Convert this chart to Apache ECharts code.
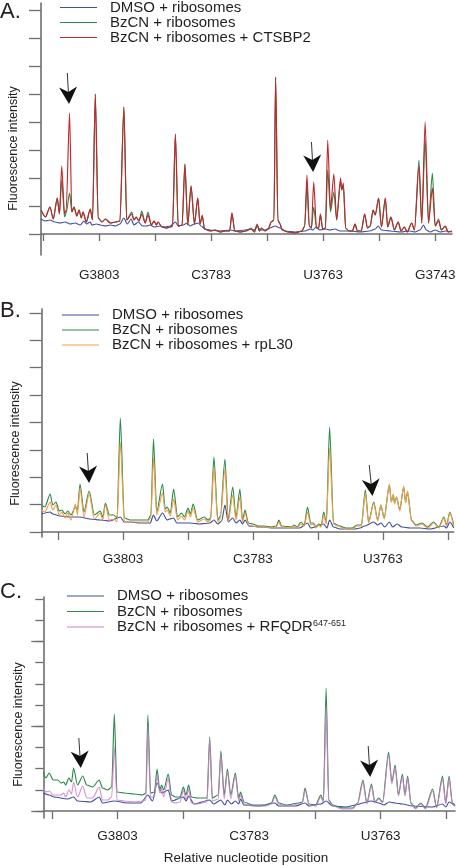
<!DOCTYPE html>
<html><head><meta charset="utf-8">
<script src="https://cdn.jsdelivr.net/npm/echarts@6/dist/echarts.min.js"></script>
<style>html,body{margin:0;padding:0;background:#fff}#c{width:456px;height:866px}</style>
</head><body><div id="c"></div>
<script>
// ---------- tick labels ----------
const xTickPos = [3813, 3803, 3793, 3783, 3773, 3763, 3753, 3743];
const xLabelPos = [3803, 3783, 3763, 3743];
const xLabelText = ['G3803', 'C3783', 'U3763', 'G3743'];

// ---------- panel A (series: [nucleotide, intensity]) ----------
const A_names = ['DMSO + ribosomes', 'BzCN + ribosomes', 'BzCN + ribosomes + CTSBP2'];
const A_dmso = [[3813.4,15],[3812.6,13],[3811.8,14],[3810.9,12],[3810.0,11],[3809.1,12],[3808.2,10],[3807.3,11],[3806.4,9],[3805.7,13],[3805.3,10],[3804.6,12],[3804.3,9],[3803.5,10],[3802.8,9],[3801.9,8],[3801.0,9],[3800.1,8],[3799.3,10],[3798.6,16],[3798.0,10],[3797.3,15],[3796.8,9],[3796.0,12],[3795.3,8],[3794.6,8],[3793.9,9],[3793.2,7],[3792.1,8],[3791.2,7],[3790.3,8],[3789.4,12],[3788.9,8],[3788.0,9],[3787.3,11],[3786.8,8],[3786.0,10],[3785.3,11],[3784.8,8],[3784.1,5],[3783.2,4],[3781.4,3],[3779.6,4],[3778.7,3],[3776.9,4],[3775.9,5],[3775.3,4],[3774.8,8],[3774.2,4],[3773.4,4],[3772.5,6],[3771.6,8],[3770.7,6],[3769.8,3],[3768.0,2],[3766.2,3],[3765.3,5],[3764.8,4],[3764.3,7],[3763.6,4],[3762.6,5],[3761.8,4],[3760.9,5],[3760.0,3],[3758.2,3],[3756.4,2],[3754.7,3],[3753.7,5],[3753.2,8],[3752.6,4],[3751.0,3],[3749.2,2],[3747.5,3],[3746.6,2],[3745.7,4],[3745.1,9],[3744.6,4],[3743.9,2],[3743.0,4],[3742.1,2],[3741.2,3],[3740.0,2]];
const A_bzcn = [[3813.4,24],[3812.6,17],[3811.8,27],[3811.2,15],[3810.5,36],[3810.1,20],[3809.7,54],[3809.2,17],[3808.9,21],[3808.3,41],[3807.9,22],[3807.5,27],[3807.0,18],[3806.6,24],[3806.2,16],[3805.9,22],[3805.3,12],[3804.6,25],[3804.2,14],[3803.7,140],[3803.2,16],[3802.5,12],[3801.9,15],[3801.0,11],[3800.1,12],[3799.3,13],[3798.6,127],[3798.1,14],[3797.2,22],[3796.8,14],[3796.4,17],[3795.9,13],[3795.4,23],[3794.8,11],[3794.3,22],[3793.7,9],[3793.2,13],[3792.8,9],[3792.5,12],[3791.8,7],[3791.0,6],[3790.3,7],[3789.9,8],[3789.4,100],[3788.9,8],[3788.2,9],[3787.7,70],[3787.2,9],[3786.6,48],[3786.0,10],[3785.4,36],[3785.0,10],[3784.6,19],[3784.2,5],[3783.2,3],[3782.3,4],[3781.4,2],[3780.5,3],[3779.7,3],[3779.3,21],[3778.8,3],[3777.8,2],[3776.8,3],[3775.9,6],[3775.3,2],[3774.8,10],[3774.4,3],[3774.0,6],[3773.4,3],[3772.8,5],[3772.3,12],[3771.8,14],[3771.5,157],[3771.1,14],[3770.8,11],[3770.3,4],[3769.3,2],[3768.0,1],[3766.8,3],[3766.3,8],[3765.9,49],[3765.5,8],[3765.1,6],[3764.7,27],[3764.2,6],[3763.8,6],[3763.5,20],[3763.1,5],[3762.6,6],[3762.2,64],[3761.7,22],[3761.1,42],[3760.6,14],[3759.9,53],[3759.7,44],[3759.4,48],[3759.0,6],[3758.4,3],[3757.8,3],[3757.3,10],[3756.9,3],[3756.2,3],[3755.6,20],[3755.1,6],[3754.6,8],[3754.1,24],[3753.7,19],[3753.1,36],[3752.6,7],[3751.9,36],[3751.5,7],[3750.9,17],[3750.3,4],[3749.6,12],[3749.1,3],[3748.5,7],[3748.0,2],[3747.2,11],[3746.7,4],[3745.9,74],[3745.4,11],[3744.8,95],[3744.2,11],[3743.5,61],[3743.0,8],[3742.4,15],[3741.9,4],[3741.2,8],[3740.7,2],[3740.0,3]];
const A_prot = [[3813.4,24],[3812.6,17],[3811.8,27],[3811.2,15],[3810.5,36],[3810.1,20],[3809.7,68],[3809.2,20],[3808.9,24],[3808.3,121],[3807.9,22],[3807.5,27],[3807.0,18],[3806.6,24],[3806.2,16],[3805.9,22],[3805.3,12],[3804.6,25],[3804.2,14],[3803.7,140],[3803.2,16],[3802.5,12],[3801.9,15],[3801.0,11],[3800.1,12],[3799.3,13],[3798.6,127],[3798.1,14],[3797.2,20],[3796.8,14],[3796.4,17],[3795.9,13],[3795.4,20],[3794.8,11],[3794.3,19],[3793.7,9],[3793.2,13],[3792.8,9],[3792.5,12],[3791.8,7],[3791.0,6],[3790.3,7],[3789.9,8],[3789.4,100],[3788.9,8],[3788.2,9],[3787.7,70],[3787.2,9],[3786.6,48],[3786.0,10],[3785.4,36],[3785.0,10],[3784.6,18],[3784.2,5],[3783.2,3],[3782.3,4],[3781.4,2],[3780.5,3],[3779.7,3],[3779.3,21],[3778.8,3],[3777.8,2],[3776.8,3],[3775.9,5],[3775.3,2],[3774.8,9],[3774.4,3],[3774.0,6],[3773.4,3],[3772.8,5],[3772.3,12],[3771.8,14],[3771.5,157],[3771.1,14],[3770.8,11],[3770.3,4],[3769.3,2],[3768.0,1],[3766.8,3],[3766.3,8],[3765.9,59],[3765.5,8],[3765.1,6],[3764.7,52],[3764.2,6],[3763.8,6],[3763.5,20],[3763.1,5],[3762.6,6],[3762.2,94],[3761.7,25],[3761.1,60],[3760.6,14],[3759.9,56],[3759.7,44],[3759.4,51],[3759.0,6],[3758.4,3],[3757.8,3],[3757.3,10],[3756.9,3],[3756.2,3],[3755.6,20],[3755.1,6],[3754.6,8],[3754.1,24],[3753.7,19],[3753.1,36],[3752.6,7],[3751.9,36],[3751.5,7],[3750.9,17],[3750.3,4],[3749.6,12],[3749.1,3],[3748.5,7],[3748.0,2],[3747.2,11],[3746.7,4],[3745.9,68],[3745.4,11],[3744.8,112],[3744.2,11],[3743.5,46],[3743.0,8],[3742.4,13],[3741.9,4],[3741.2,8],[3740.7,2],[3740.0,3]];
const A_arrows = [[3808.7,161,3808.4,130],[3765.1,92,3764.8,62]];

// ---------- panel B ----------
const B_names = ['DMSO + ribosomes', 'BzCN + ribosomes', 'BzCN + ribosomes + rpL30'];
const B_dmso = [[3815.5,18],[3814.2,20],[3813.8,18],[3812.7,16],[3811.2,15],[3809.6,15],[3808.1,13],[3806.5,12],[3805.0,11],[3803.4,15],[3802.8,10],[3801.9,10],[3800.4,9],[3798.8,9],[3798.3,17],[3797.8,11],[3796.9,19],[3796.2,12],[3795.8,13],[3795.2,14],[3794.7,9],[3792.7,9],[3791.2,8],[3789.6,9],[3789.0,12],[3788.4,8],[3787.8,11],[3787.3,27],[3786.8,10],[3786.1,14],[3785.6,9],[3785.0,12],[3784.6,8],[3784.2,12],[3783.6,6],[3781.9,5],[3779.6,4],[3778.1,4],[3775.8,4],[3774.6,9],[3774.1,4],[3772.1,8],[3771.6,4],[3771.2,12],[3770.6,5],[3769.6,3],[3767.3,3],[3766.5,4],[3765.8,6],[3764.4,10],[3763.8,7],[3763.3,9],[3762.7,5],[3762.0,10],[3761.5,5],[3760.8,8],[3760.1,5],[3758.8,4],[3757.3,4],[3755.8,3],[3753.6,6],[3753.2,4],[3752.7,10],[3752.1,4]];
const B_bzcn = [[3815.5,27],[3815.0,25],[3814.2,38],[3813.8,27],[3813.3,30],[3812.8,21],[3812.4,22],[3811.9,18],[3811.5,21],[3811.0,17],[3810.3,25],[3810.0,22],[3809.6,48],[3809.0,20],[3808.2,41],[3807.4,17],[3806.5,21],[3806.1,15],[3805.7,29],[3805.1,17],[3804.4,17],[3803.9,14],[3803.4,114],[3802.8,14],[3801.9,12],[3800.4,12],[3799.2,12],[3798.7,17],[3798.3,93],[3797.8,20],[3796.9,48],[3796.5,23],[3796.2,25],[3795.7,19],[3795.2,43],[3794.6,15],[3794.0,19],[3793.5,15],[3793.0,24],[3792.6,18],[3792.2,28],[3791.5,12],[3790.5,15],[3789.9,12],[3789.5,14],[3789.0,75],[3788.4,12],[3788.0,16],[3787.3,73],[3786.8,12],[3786.1,45],[3785.6,14],[3785.0,43],[3784.6,12],[3784.2,22],[3783.7,9],[3783.0,8],[3782.2,6],[3781.3,6],[3780.1,5],[3779.4,6],[3779.0,12],[3778.6,6],[3777.0,5],[3776.7,7],[3776.2,5],[3775.6,10],[3775.1,7],[3774.6,25],[3774.1,9],[3773.7,9],[3773.3,5],[3772.9,8],[3772.5,6],[3772.1,20],[3771.7,9],[3771.2,105],[3770.6,9],[3770.0,7],[3768.7,4],[3767.7,4],[3767.0,7],[3766.3,7],[3765.7,42],[3765.2,10],[3764.4,30],[3763.8,12],[3763.3,27],[3762.8,14],[3762.0,47],[3761.7,30],[3761.4,37],[3761.2,29],[3760.9,35],[3760.4,22],[3759.8,45],[3759.5,30],[3759.2,40],[3758.6,12],[3757.9,7],[3757.0,9],[3756.1,5],[3755.2,10],[3754.4,5],[3753.6,15],[3753.2,7],[3752.7,20],[3752.1,7]];
const B_prot = [[3815.5,22],[3815.0,20],[3814.2,30],[3813.8,22],[3813.3,27],[3812.8,17],[3812.4,20],[3811.9,14],[3811.5,19],[3811.0,12],[3810.3,28],[3810.0,17],[3809.6,44],[3809.0,15],[3808.2,38],[3807.4,13],[3806.5,19],[3806.1,12],[3805.7,27],[3805.1,12],[3804.4,13],[3803.9,10],[3803.4,90],[3802.8,11],[3801.9,10],[3800.4,10],[3799.2,10],[3798.7,14],[3798.3,74],[3797.8,17],[3796.9,39],[3796.5,20],[3796.2,22],[3795.7,16],[3795.2,33],[3794.6,12],[3794.0,16],[3793.5,12],[3793.0,21],[3792.6,15],[3792.2,24],[3791.5,10],[3790.5,13],[3789.9,10],[3789.5,12],[3789.0,65],[3788.4,10],[3788.0,13],[3787.3,63],[3786.8,10],[3786.1,37],[3785.6,12],[3785.0,35],[3784.6,10],[3784.2,19],[3783.7,7],[3783.0,6],[3782.2,5],[3781.3,5],[3780.1,4],[3779.4,5],[3779.0,10],[3778.6,5],[3777.0,4],[3776.7,6],[3776.2,4],[3775.6,8],[3775.1,6],[3774.6,20],[3774.1,7],[3773.7,8],[3773.3,4],[3772.9,7],[3772.5,5],[3772.1,17],[3771.7,8],[3771.2,84],[3770.6,8],[3770.0,6],[3768.7,3],[3767.7,3],[3767.0,6],[3766.3,6],[3765.7,39],[3765.2,9],[3764.4,29],[3763.8,11],[3763.3,27],[3762.8,13],[3762.0,48],[3761.7,30],[3761.4,38],[3761.2,28],[3760.9,35],[3760.4,21],[3759.8,46],[3759.5,29],[3759.2,41],[3758.6,11],[3757.9,6],[3757.0,8],[3756.1,4],[3755.2,9],[3754.4,4],[3753.6,14],[3753.2,6],[3752.7,19],[3752.1,6]];
const B_arrows = [[3808.5,79,3808.2,49],[3765.1,67,3764.6,36]];

// ---------- panel C ----------
const C_names = ['DMSO + ribosomes', 'BzCN + ribosomes', 'BzCN + ribosomes + RFQDR647-651'];
const C_dmso = [[3814.3,18],[3813.4,16],[3812.7,14],[3810.6,12],[3809.7,14],[3809.1,10],[3807.1,9],[3805.8,14],[3805.3,8],[3803.5,10],[3801.5,8],[3799.5,8],[3798.4,16],[3797.7,10],[3797.0,28],[3796.3,18],[3795.3,21],[3794.8,10],[3793.0,14],[3792.6,10],[3792.2,15],[3791.4,7],[3789.0,11],[3788.4,7],[3787.3,11],[3786.7,6],[3786.3,11],[3785.7,7],[3785.1,10],[3784.6,7],[3784.3,12],[3783.8,6],[3781.5,5],[3779.1,8],[3778.5,5],[3775.9,5],[3774.5,8],[3773.9,5],[3772.1,7],[3771.3,10],[3770.3,5],[3768.3,4],[3766.8,6],[3765.7,8],[3764.5,10],[3763.3,8],[3762.5,6],[3761.7,9],[3760.8,8],[3759.7,7],[3758.2,5],[3755.1,4],[3753.6,7],[3753.1,4],[3752.6,9],[3751.7,5]];
const C_bzcn = [[3814.3,39],[3813.9,33],[3813.4,38],[3812.8,31],[3812.1,31],[3811.6,28],[3811.2,29],[3810.9,26],[3810.4,33],[3810.0,29],[3809.7,43],[3809.1,26],[3808.3,35],[3807.7,26],[3806.8,24],[3805.8,31],[3805.3,23],[3804.5,21],[3803.9,24],[3803.5,97],[3803.1,19],[3802.0,18],[3800.5,17],[3799.2,16],[3798.7,18],[3798.4,96],[3798.0,18],[3797.4,19],[3797.0,42],[3796.6,21],[3796.3,26],[3796.0,21],[3795.3,37],[3794.8,16],[3794.2,14],[3793.5,14],[3793.0,24],[3792.6,16],[3792.2,26],[3791.8,14],[3790.9,13],[3789.4,13],[3789.0,74],[3788.6,13],[3787.7,16],[3787.3,60],[3786.8,16],[3786.3,42],[3785.8,16],[3785.1,38],[3784.6,13],[3784.3,19],[3783.8,9],[3782.5,6],[3780.5,6],[3779.6,8],[3779.1,16],[3778.5,8],[3777.4,6],[3775.4,8],[3774.9,9],[3774.5,23],[3773.9,7],[3772.9,6],[3772.1,16],[3771.7,10],[3771.3,123],[3770.9,11],[3770.3,6],[3768.8,3],[3767.3,3],[3766.5,8],[3765.7,31],[3765.1,8],[3764.4,27],[3763.9,9],[3763.3,13],[3762.7,9],[3761.8,59],[3761.3,29],[3760.8,46],[3760.3,16],[3759.7,37],[3759.3,16],[3758.9,35],[3758.4,8],[3757.7,3],[3756.9,8],[3756.2,3],[3755.1,22],[3754.5,4],[3753.6,35],[3753.1,8],[3752.6,35],[3752.1,8],[3751.7,6]];
const C_prot = [[3814.3,23],[3813.9,19],[3813.4,20],[3812.8,16],[3812.1,16],[3811.6,16],[3811.2,18],[3810.9,14],[3810.4,21],[3810.0,17],[3809.7,29],[3809.1,14],[3808.3,25],[3807.7,13],[3806.8,13],[3805.8,24],[3805.3,11],[3804.5,11],[3803.9,14],[3803.5,64],[3803.1,11],[3802.0,10],[3800.5,9],[3799.2,10],[3798.7,11],[3798.4,85],[3798.0,14],[3797.4,14],[3797.0,36],[3796.6,18],[3796.3,23],[3796.0,14],[3795.3,33],[3794.8,9],[3794.2,8],[3793.5,9],[3793.0,21],[3792.6,11],[3792.2,22],[3791.8,8],[3790.9,7],[3789.4,9],[3789.0,72],[3788.6,10],[3787.7,12],[3787.3,57],[3786.8,12],[3786.3,40],[3785.8,12],[3785.1,36],[3784.6,10],[3784.3,16],[3783.8,7],[3782.5,5],[3780.5,5],[3779.6,7],[3779.1,14],[3778.5,7],[3777.4,5],[3775.4,7],[3774.9,8],[3774.5,21],[3773.9,6],[3772.9,5],[3772.1,14],[3771.7,9],[3771.3,105],[3770.9,10],[3770.3,5],[3768.8,2],[3767.3,2],[3766.5,7],[3765.7,29],[3765.1,7],[3764.4,25],[3763.9,8],[3763.3,12],[3762.7,8],[3761.8,56],[3761.3,27],[3760.8,44],[3760.3,15],[3759.7,35],[3759.3,15],[3758.9,33],[3758.4,7],[3757.7,2],[3756.9,7],[3756.2,2],[3755.1,20],[3754.5,3],[3753.6,32],[3753.1,7],[3752.6,33],[3752.1,7],[3751.7,5]];
const C_arrows = [[3808.9,73,3808.6,43],[3764.9,65,3764.6,34]];

// ---------- styling ----------
const FONT = '"Liberation Sans", Arial, Helvetica, sans-serif';
const TXT = '#231f20';
const AX = '#6e6e6e';
const COL = { dmso: '#3d4fa3', bzcn: '#2b8a4c', red: '#c1272d', orange: '#efa04c', pink: '#cf80c6' };

const grids = [
  { left: 41, top: 3, width: 411, height: 252, outerBoundsMode: 'none', containLabel: false },
  { left: 41.7, top: 309, width: 412, height: 228, outerBoundsMode: 'none', containLabel: false },
  { left: 43.3, top: 597, width: 411.7, height: 221, outerBoundsMode: 'none', containLabel: false }
];
const xr = [[3740.0, 3813.4], [3752.1, 3815.5], [3751.7, 3814.3]];
const yr = [[-21, 231], [-5, 223], [-7, 214]];
const yTicks = [
  [0, 28, 56, 84, 112, 140, 168, 196, 224],
  [0, 27.4, 54.8, 82.2, 109.6, 137, 164.4, 191.8, 219.2],
  [0, 21.2, 42.4, 63.6, 84.8, 106, 127.2, 148.4, 169.6, 190.8, 212]
];
const labelMargin = [13.5, 15.5, 11];

const xAxes = grids.map((g, i) => ({
  gridIndex: i, type: 'value', inverse: true, min: xr[i][0], max: xr[i][1],
  axisLine: { lineStyle: { color: AX, width: 1.6 } },
  axisTick: { show: true, customValues: xTickPos, length: i === 0 ? 7 : 8, lineStyle: { color: AX, width: 1.3 } },
  axisLabel: { customValues: xLabelPos, formatter: v => xLabelText[xLabelPos.indexOf(v)] || '', margin: labelMargin[i],
               fontSize: 13.5, color: TXT, fontFamily: FONT, hideOverlap: false },
  splitLine: { show: false }
}));
const yAxes = grids.map((g, i) => ({
  gridIndex: i, type: 'value', min: yr[i][0], max: yr[i][1], position: 'left',
  axisLine: { show: true, lineStyle: { color: AX, width: 1.6 } },
  axisTick: { show: true, customValues: yTicks[i], length: i === 2 ? 8 : 12, lineStyle: { color: AX, width: 1.3 } },
  axisLabel: { show: false }, splitLine: { show: false }
}));
// longer ticks in panel C
yAxes.push({
  gridIndex: 2, type: 'value', min: yr[2][0], max: yr[2][1], position: 'left', offset: 0,
  axisLine: { show: false },
  axisTick: { show: true, customValues: [0, 84.8, 169.6], length: 12, lineStyle: { color: AX, width: 1.3 } },
  axisLabel: { show: false }, splitLine: { show: false }
});

function ser(name, data, i, color, opacity) {
  return { name, type: 'line', xAxisIndex: i, yAxisIndex: i, data, symbol: 'none', showSymbol: false,
           smooth: 0.25, smoothMonotone: 'x',
           lineStyle: { width: 1.15, color, opacity: opacity || 1 }, itemStyle: { color }, silent: true, animation: false };
}
const series = [
  ser(A_names[0], A_dmso, 0, COL.dmso), ser(A_names[1], A_bzcn, 0, COL.bzcn), ser(A_names[2], A_prot, 0, COL.red),
  ser(B_names[0], B_dmso, 1, COL.dmso), ser(B_names[1], B_bzcn, 1, COL.bzcn), ser(B_names[2], B_prot, 1, COL.orange),
  ser(C_names[0], C_dmso, 2, COL.dmso), ser(C_names[1], C_bzcn, 2, COL.bzcn), ser(C_names[2], C_prot, 2, COL.pink, 0.85)
];

function legend(names, left, top, gap) {
  return {
    data: names, left, top, orient: 'vertical', itemGap: gap, itemWidth: 37, itemHeight: 1.2, icon: 'rect',
    selectedMode: false, padding: 0,
    formatter: n => n === C_names[2] ? '{a|BzCN + ribosomes + RFQDR}{s|647-651}' : n,
    textStyle: { fontSize: 15, lineHeight: 15, color: TXT, fontFamily: FONT, padding: [0, 0, 0, 8],
      rich: { a: { fontSize: 15, lineHeight: 15, color: TXT, fontFamily: FONT },
              s: { fontSize: 9, lineHeight: 9, verticalAlign: 'top', color: TXT, fontFamily: FONT, padding: [0, 0, 6, 0] } } }
  };
}

function txt(text, x, y, size, rot, align, valign) {
  return { type: 'text', x, y, rotation: rot || 0, silent: true,
    style: { text, font: size + 'px ' + FONT, fill: TXT, align: align || 'center', verticalAlign: valign || 'middle' } };
}
const baseGraphics = [
  txt('A.', 0, 1, 22, 0, 'left', 'top'),
  txt('B.', 0, 300, 22, 0, 'left', 'top'),
  txt('C.', 0, 581, 22, 0, 'left', 'top'),
  txt('Fluorescence intensity', 14, 148.5, 12.5, Math.PI / 2),
  txt('Fluorescence intensity', 15.5, 443.5, 12.5, Math.PI / 2),
  txt('Fluorescence intensity', 18.5, 724.5, 12.5, Math.PI / 2),
  txt('Relative nucleotide position', 246, 858, 13.5)
];

const chart = echarts.init(document.getElementById('c'), null, { renderer: 'canvas' });
chart.setOption({
  animation: false,
  textStyle: { fontFamily: FONT },
  grid: grids,
  xAxis: xAxes,
  yAxis: yAxes,
  legend: [legend(A_names, 60, 0, 0), legend(B_names, 62, 307.5, 0), legend(C_names, 67, 588.5, 0.5)],
  series,
  graphic: baseGraphics
});

// arrows, positioned through the axes
function arrowShapes(list, i) {
  const out = [];
  list.forEach(a => {
    const top = chart.convertToPixel({ xAxisIndex: i, yAxisIndex: i }, [a[0], a[1]]);
    const tip = chart.convertToPixel({ xAxisIndex: i, yAxisIndex: i }, [a[2], a[3]]);
    const dx = tip[0] - top[0], dy = tip[1] - top[1];
    const L = Math.hypot(dx, dy), ux = dx / L, uy = dy / L, px = -uy, py = ux;
    const H = 17, W = 9, N = 12;
    const back = [tip[0] - ux * H, tip[1] - uy * H];
    const notch = [tip[0] - ux * N, tip[1] - uy * N];
    out.push({ type: 'line', silent: true, shape: { x1: top[0], y1: top[1], x2: notch[0], y2: notch[1] },
               style: { stroke: '#333', lineWidth: 1 } });
    out.push({ type: 'polygon', silent: true,
      shape: { points: [tip, [back[0] + px * W, back[1] + py * W], notch, [back[0] - px * W, back[1] - py * W]] },
      style: { fill: '#111' } });
  });
  return out;
}
chart.setOption({ graphic: baseGraphics.concat(arrowShapes(A_arrows, 0), arrowShapes(B_arrows, 1), arrowShapes(C_arrows, 2)) });
</script></body></html>
